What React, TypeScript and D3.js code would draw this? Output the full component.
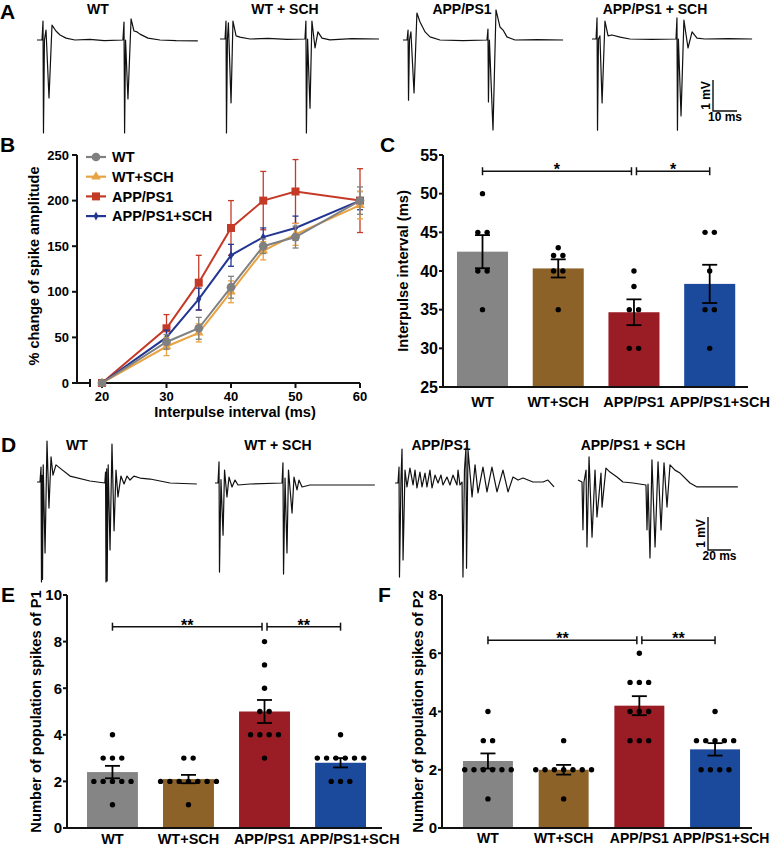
import React from "react";
import * as d3 from "d3";

const FONT = "'Liberation Sans', Arial, Helvetica, sans-serif";

type Pt = [number, number];

// ---------------- data ----------------
const groups = ["WT", "WT+SCH", "APP/PS1", "APP/PS1+SCH"];
const traceTitles = ["WT", "WT + SCH", "APP/PS1", "APP/PS1 + SCH"];

// Panel A traces: [time (ms), voltage (mV)]
const traceA_WT: Pt[] = [[0,0],[2.1,0],[2.5,0.61],[2.7,-3.0],[3.1,0],[3.75,0.32],[5.0,-1.87],[6.25,0.48],[7.9,0.29],[9.6,0.16],[12.1,0.06],[15.8,0],[22,0.02],[28,-0.02],[35.8,0],[36.25,0.58],[36.5,-3.0],[36.9,0],[37.9,-1.9],[39.2,0.68],[40.4,0.29],[41.7,0.26],[42.9,0.19],[46.25,0.06],[51.25,0],[58,-0.02],[67,-0.03]];
const traceA_WTSCH: Pt[] = [[0,0],[2.1,0],[2.5,0.58],[2.7,-3.03],[3.1,0],[3.5,0.52],[4.6,-2.06],[5.4,0.58],[6.7,0.1],[8.3,0.06],[12.5,0],[20,0.02],[28,-0.01],[35.4,0],[35.8,0.58],[36,-3.03],[36.5,0],[37.5,-2.23],[38.3,0.58],[39.6,-0.29],[40.8,0.23],[42.5,0.03],[45.8,-0.03],[55,0.01],[66.25,0]];
const traceA_APP: Pt[] = [[0,0],[1.7,0],[2.1,0.32],[2.3,-1.94],[2.7,0],[3.3,0.26],[4.6,-1.71],[5.8,0.87],[7.1,0.58],[9.2,0.26],[11.25,0.1],[15.4,0],[25,-0.02],[35,0],[35.4,0.35],[35.6,-2.0],[36,0],[37.5,-2.9],[38.75,0.97],[40.4,0.42],[41.7,0.32],[43.3,0.1],[46.7,0],[56,0.01],[66.7,0]];
const traceA_APPSCH: Pt[] = [[0,0],[1.7,0],[2.1,0.68],[2.3,-2.94],[2.7,0],[3.3,0.1],[4.2,-2.06],[5.4,0.58],[6.7,0.1],[8.3,0.13],[11.7,0.06],[15.8,0],[25,-0.01],[35,0],[35.4,0.68],[35.6,-2.94],[36,0],[37.1,-2.48],[38.3,0.61],[40,-0.29],[41.7,0.23],[43.75,0.03],[47,0],[57,0.01],[66.7,0]];

// Panel D traces: [time (ms), voltage (mV)]
const traceD_WT: Pt[] = [[0,0],[2.6,0],[3.5,0.45],[3.9,-3.03],[4.4,0.2],[4.8,-2.95],[5.4,0.52],[7.0,-2.15],[8.7,1.24],[10.4,-0.79],[12.2,0.76],[13.9,0.21],[16.5,0.52],[20,0.42],[28.7,0.18],[46,0.03],[59,-0.03],[59.6,0.3],[60,-3.03],[60.6,0.4],[61,-3.0],[61.9,0.52],[63.5,-2.06],[65.2,1.15],[67,-1.48],[68.7,0.36],[70.4,-0.45],[73,0.18],[75.7,-0.06],[78.3,0.18],[80.9,0.06],[84.3,0.18],[89.6,0.12],[98.3,0.09],[115.7,-0.03],[139,-0.06]];
const traceD_WTSCH: Pt[] = [[0,0],[2.6,0],[3.5,0.64],[3.9,-2.7],[5.2,0.1],[7.0,-1.58],[8.3,0.39],[10.4,-0.42],[12.2,0.18],[14.8,-0.12],[17.4,0.09],[20,-0.06],[30.4,-0.03],[58.3,0],[59.1,0.61],[59.6,-2.76],[60.9,0.15],[62.6,-2.12],[63.9,0.39],[67,-0.91],[68.7,0.18],[71.3,-0.21],[73,0.09],[75.7,-0.12],[82.6,-0.06],[139,-0.06]];
const traceD_APP: Pt[] = [[0,0],[2.6,0],[3.5,0.48],[3.9,-2.85],[5.2,0.09],[6.1,1.03],[7.0,-2.33],[8.7,0.39],[10.4,-0.12],[13.0,0.45],[15.7,-0.06],[17.4,0.39],[19.1,-0.15],[21.7,0.33],[23.5,-0.12],[26.1,0.3],[27.8,-0.12],[30.4,0.39],[32.2,-0.15],[34.8,0.24],[37.4,0],[40,0.24],[41.7,-0.06],[45.2,0.18],[47.8,-0.06],[50.4,0.24],[53.9,-0.06],[54.8,0.39],[56.5,-0.06],[58.3,0.03],[59.1,-2.85],[60.4,0.39],[61.7,1.06],[62.2,-2.58],[63.5,1.0],[67,-0.42],[69.6,0.55],[72.2,-0.3],[76.5,0.48],[80,-0.27],[84.3,0.48],[88.7,-0.27],[93.9,0.39],[98.3,-0.27],[102.6,0.18],[107,0.09],[111.3,0.15],[120,0.03],[128.7,0.03],[133,0.09],[138.3,-0.12]];
const traceD_APPSCH: Pt[] = [[0,0.06],[3.5,0],[4.3,-1.45],[5.2,0],[7,0.36],[7.8,-1.97],[9.6,0.76],[12.2,-1.67],[14.8,0.36],[16.5,-1.06],[20,0.27],[20.9,-0.76],[24.3,0.42],[27.8,0.3],[33.9,0.15],[39.1,0],[47.8,-0.03],[59.1,-0.09],[60,-1.45],[60.9,-0.06],[62.6,-2.3],[64.3,0.67],[67,-1.97],[69.6,0.61],[72.2,-1.45],[74.8,0.58],[77.4,-0.76],[80,0.52],[84.3,0.36],[88.7,0.27],[97.4,-0.03],[103.5,-0.15],[139,-0.15]];

// Panel B: % change of spike amplitude
const intervals = [20, 30, 35, 40, 45, 50, 60];
const ampWT = [0, 45, 60, 105, 150, 160, 200];
const semWT = [0, 8, 12, 12, 8, 12, 15];
const ampWTSCH = [0, 40, 55, 100, 145, 163, 195];
const semWTSCH = [0, 10, 10, 12, 10, 12, 15];
const ampAPP = [0, 60, 110, 170, 200, 210, 200];
const semAPP = [0, 15, 30, 30, 32, 35, 35];
const ampAPPSCH = [0, 50, 92, 140, 160, 170, 200];
const semAPPSCH = [0, 8, 12, 12, 10, 13, 10];
const bTicksY = [0, 50, 100, 150, 200, 250];
const bTicksX = [20, 30, 40, 50, 60];

// Panel C: interpulse interval (ms), individual animals
const cPoints = [
  [50, 45, 45, 40, 40, 35],
  [43, 42, 42, 40, 40, 35],
  [40, 38, 35, 35, 30, 30],
  [45, 45, 40, 35, 35, 30],
];
const cTicks = [25, 30, 35, 40, 45, 50, 55];

// Panel E: number of population spikes of P1
const ePoints = [
  [4, 3, 3, 3, 2, 2, 2, 2, 2, 1],
  [3, 3, 2, 2, 2, 2, 2, 2, 2, 1],
  [8, 7, 6, 5, 5, 4, 4, 4, 4, 3],
  [4, 3, 3, 3, 3, 3, 3, 2, 2, 2],
];
const eTicks = [0, 2, 4, 6, 8, 10];

// Panel F: number of population spikes of P2
const fPoints = [
  [4, 3, 3, 2, 2, 2, 2, 2, 2, 1],
  [3, 2, 2, 2, 2, 2, 2, 2, 1],
  [6, 5, 5, 5, 4, 4, 4, 3, 3, 3],
  [4, 3, 3, 3, 3, 3, 2, 2, 2, 2],
];
const fTicks = [0, 2, 4, 6, 8];

// ---------------- styles ----------------
const barColors = ["#858585", "#8d6229", "#9a1c24", "#1b4a9d"];
const lineColors = ["#808080", "#e8a343", "#c43a27", "#233792"];

// ---------------- components ----------------
function Trace({ data, x0, base, pxPerMs, pxPerMv }: { data: Pt[]; x0: number; base: number; pxPerMs: number; pxPerMv: number }) {
  const x = d3.scaleLinear().domain([0, 1]).range([x0, x0 + pxPerMs]);
  const y = d3.scaleLinear().domain([0, 1]).range([base, base - pxPerMv]);
  const line = d3.line<Pt>().x((d) => x(d[0])).y((d) => y(d[1]));
  return <path d={line(data) || ""} fill="none" stroke="#111" strokeWidth={1.2} strokeLinejoin="round" />;
}

function ScaleBar({ x0, yBottom, pxPerMs, pxPerMv, ms, msLabel }: { x0: number; yBottom: number; pxPerMs: number; pxPerMv: number; ms: number; msLabel: string }) {
  const x = d3.scaleLinear().domain([0, 1]).range([x0, x0 + pxPerMs]);
  const y = d3.scaleLinear().domain([0, 1]).range([yBottom, yBottom - pxPerMv]);
  return (
    <g>
      <path d={`M${x(0)},${y(1)}V${y(0)}H${x(ms)}`} fill="none" stroke="#111" strokeWidth={1.4} />
      <text transform={`translate(${x(0) - 3},${(y(0) + y(1)) / 2}) rotate(-90)`} textAnchor="middle" fontSize={12} fontWeight="bold">1 mV</text>
      <text x={(x(0) + x(ms)) / 2} y={yBottom + 10} textAnchor="middle" fontSize={12} fontWeight="bold">{msLabel}</text>
    </g>
  );
}

function PanelB() {
  const x = d3.scaleLinear().domain([20, 60]).range([102, 360]);
  const y = d3.scaleLinear().domain([0, 250]).range([383, 155]);
  const series = [
    { name: "WT", vals: ampWT, sem: semWT, color: lineColors[0], sym: d3.symbolCircle, size: 60 },
    { name: "WT+SCH", vals: ampWTSCH, sem: semWTSCH, color: lineColors[1], sym: d3.symbolTriangle, size: 40 },
    { name: "APP/PS1", vals: ampAPP, sem: semAPP, color: lineColors[2], sym: d3.symbolSquare, size: 64 },
    { name: "APP/PS1+SCH", vals: ampAPPSCH, sem: semAPPSCH, color: lineColors[3], sym: d3.symbolDiamond, size: 22 },
  ];
  const order = [2, 3, 1, 0];
  const line = d3.line<number>().x((_, i) => x(intervals[i])).y((d) => y(d));
  return (
    <g>
      <line x1={77} x2={77} y1={y(250)} y2={y(0) + 1} stroke="#111" strokeWidth={2} />
      {bTicksY.map((t) => (
        <g key={t}>
          <line x1={72} x2={77} y1={y(t)} y2={y(t)} stroke="#111" strokeWidth={2} />
          <text x={69} y={y(t)} dy="0.36em" textAnchor="end" fontSize={13} fontWeight="bold">{t}</text>
        </g>
      ))}
      <line x1={77} x2={90} y1={y(0)} y2={y(0)} stroke="#111" strokeWidth={2} />
      <line x1={90} x2={90} y1={y(0) - 4} y2={y(0) + 4} stroke="#111" strokeWidth={2} />
      <line x1={x(20)} x2={x(60)} y1={y(0)} y2={y(0)} stroke="#111" strokeWidth={2} />
      {bTicksX.map((t) => (
        <g key={t}>
          <line x1={x(t)} x2={x(t)} y1={y(0)} y2={y(0) + 5} stroke="#111" strokeWidth={2} />
          <text x={x(t)} y={401} textAnchor="middle" fontSize={13} fontWeight="bold">{t}</text>
        </g>
      ))}
      <text x={235} y={417} textAnchor="middle" fontSize={14.7} fontWeight="bold">Interpulse interval (ms)</text>
      <text transform={`translate(39,266) rotate(-90)`} textAnchor="middle" fontSize={14.5} fontWeight="bold">% change of spike amplitude</text>
      {order.map((si) => {
        const s = series[si];
        const symPath = d3.symbol().type(s.sym).size(s.size)() || "";
        return (
          <g key={s.name}>
            {s.vals.map((v, i) =>
              s.sem[i] > 0 ? (
                <g key={i} stroke={s.color} strokeWidth={1.3}>
                  <line x1={x(intervals[i])} x2={x(intervals[i])} y1={y(v - s.sem[i])} y2={y(v + s.sem[i])} />
                  <line x1={x(intervals[i]) - 3} x2={x(intervals[i]) + 3} y1={y(v + s.sem[i])} y2={y(v + s.sem[i])} />
                  <line x1={x(intervals[i]) - 3} x2={x(intervals[i]) + 3} y1={y(v - s.sem[i])} y2={y(v - s.sem[i])} />
                </g>
              ) : null
            )}
            <path d={line(s.vals) || ""} fill="none" stroke={s.color} strokeWidth={2} />
            {s.vals.map((v, i) => (
              <path key={i} d={symPath} transform={`translate(${x(intervals[i])},${y(v)})`} fill={s.color} />
            ))}
          </g>
        );
      })}
      {series.map((s, i) => {
        const ly = 157 + i * 19.7;
        const symPath = d3.symbol().type(s.sym).size(s.size)() || "";
        return (
          <g key={s.name}>
            <line x1={86} x2={106} y1={ly} y2={ly} stroke={s.color} strokeWidth={2.2} />
            <path d={symPath} transform={`translate(96,${ly})`} fill={s.color} />
            <text x={112} y={ly} dy="0.36em" fontSize={14.5} fontWeight="bold">{s.name}</text>
          </g>
        );
      })}
    </g>
  );
}

type BarProps = {
  points: number[][];
  yDomain: [number, number];
  yRange: [number, number];
  ticks: number[];
  bandRange: [number, number];
  padIn: number;
  padOut: number;
  axisX: number;
  axisEnd: number;
  tickFont: number;
  catFont: number;
  catY: number;
  lastShift: number;
  title: string;
  titleX: number;
  bracketLevel: number;
  star: string;
};

function BarPanel(p: BarProps) {
  const y = d3.scaleLinear().domain(p.yDomain).range(p.yRange);
  const x = d3.scaleBand<string>().domain(groups).range(p.bandRange).paddingInner(p.padIn).paddingOuter(p.padOut);
  const bw = x.bandwidth();
  const cx = (g: string) => (x(g) as number) + bw / 2;
  const means = p.points.map((d) => d3.mean(d) as number);
  const sems = p.points.map((d) => (d3.deviation(d) as number) / Math.sqrt(d.length));
  const base = p.yDomain[0];
  const spacing = 9.3;
  const by = y(p.bracketLevel);
  const l1 = cx(groups[0]);
  const l2 = cx(groups[2]) - 2.5;
  const r1 = cx(groups[2]) + 2.5;
  const r2 = cx(groups[3]);
  return (
    <g>
      {groups.map((g, gi) => (
        <rect key={g} x={x(g)} y={y(means[gi])} width={bw} height={y(base) - y(means[gi])} fill={barColors[gi]} />
      ))}
      {groups.map((g, gi) => {
        const vals = p.points[gi];
        const counts = d3.rollup(vals, (v) => v.length, (d) => d);
        const seen = new Map<number, number>();
        return (
          <g key={g}>
            {vals.map((v, i) => {
              const k = counts.get(v) as number;
              const j = seen.get(v) ?? 0;
              seen.set(v, j + 1);
              const dx = (j - (k - 1) / 2) * spacing;
              return <circle key={i} cx={cx(g) + dx} cy={y(v)} r={2.7} fill="#000" />;
            })}
          </g>
        );
      })}
      {groups.map((g, gi) => {
        const c = cx(g);
        const hi = y(means[gi] + sems[gi]);
        const lo = y(means[gi] - sems[gi]);
        return (
          <g key={g} stroke="#000" strokeWidth={1.8}>
            <line x1={c} x2={c} y1={hi} y2={lo} />
            <line x1={c - 7.5} x2={c + 7.5} y1={hi} y2={hi} />
            <line x1={c - 7.5} x2={c + 7.5} y1={lo} y2={lo} />
          </g>
        );
      })}
      <line x1={p.axisX} x2={p.axisX} y1={y(p.yDomain[1])} y2={y(base) + 1} stroke="#111" strokeWidth={2} />
      <line x1={p.axisX} x2={p.axisEnd} y1={y(base)} y2={y(base)} stroke="#111" strokeWidth={2} />
      {p.ticks.map((t) => (
        <g key={t}>
          <line x1={p.axisX - 4} x2={p.axisX} y1={y(t)} y2={y(t)} stroke="#111" strokeWidth={2} />
          <text x={p.axisX - 5} y={y(t)} dy="0.36em" textAnchor="end" fontSize={p.tickFont} fontWeight="bold">{t}</text>
        </g>
      ))}
      {groups.map((g, gi) => (
        <text key={g} x={cx(g) + (gi === 3 ? p.lastShift : 0)} y={p.catY} textAnchor="middle" fontSize={p.catFont} fontWeight="bold">{g}</text>
      ))}
      <text transform={`translate(${p.titleX},${(p.yRange[0] + p.yRange[1]) / 2}) rotate(-90)`} textAnchor="middle" dy="0.36em" fontSize={14.7} fontWeight="bold">{p.title}</text>
      <g stroke="#111" strokeWidth={1.5}>
        <line x1={l1} x2={l2} y1={by} y2={by} />
        <line x1={l1} x2={l1} y1={by - 4} y2={by + 4} />
        <line x1={l2} x2={l2} y1={by - 4} y2={by + 4} />
        <line x1={r1} x2={r2} y1={by} y2={by} />
        <line x1={r1} x2={r1} y1={by - 4} y2={by + 4} />
        <line x1={r2} x2={r2} y1={by - 4} y2={by + 4} />
      </g>
      <text x={(l1 + l2) / 2} y={by + 4} textAnchor="middle" fontSize={16} fontWeight="bold">{p.star}</text>
      <text x={(r1 + r2) / 2} y={by + 4} textAnchor="middle" fontSize={16} fontWeight="bold">{p.star}</text>
    </g>
  );
}

export default function App() {
  const aTraces = [
    { data: traceA_WT, x0: 37, base: 40, tx: 98 },
    { data: traceA_WTSCH, x0: 220, base: 39, tx: 285 },
    { data: traceA_APP, x0: 403, base: 40, tx: 462 },
    { data: traceA_APPSCH, x0: 592, base: 39, tx: 655 },
  ];
  const dTraces = [
    { data: traceD_WT, x0: 37, base: 482, tx: 77 },
    { data: traceD_WTSCH, x0: 215, base: 483, tx: 278 },
    { data: traceD_APP, x0: 395, base: 483, tx: 441 },
    { data: traceD_APPSCH, x0: 578, base: 482, tx: 633 },
  ];
  return (
    <svg width={777} height={846} style={{ position: "absolute", left: 0, top: 0, background: "#fff" }} fontFamily={FONT}>
      <rect width={777} height={846} fill="#fff" />
      {[["A", 0, 19], ["B", 0, 152], ["C", 380, 152], ["D", 1, 452], ["E", 1, 602], ["F", 378, 602]].map(([t, lx, ly]) => (
        <text key={t as string} x={lx as number} y={ly as number} fontSize={21} fontWeight="bold">{t}</text>
      ))}
      {aTraces.map((t, i) => (
        <g key={i}>
          <text x={t.tx} y={14} textAnchor="middle" fontSize={14} fontWeight="bold">{traceTitles[i]}</text>
          <Trace data={t.data} x0={t.x0} base={t.base} pxPerMs={2.4} pxPerMv={31} />
        </g>
      ))}
      <ScaleBar x0={713} yBottom={111} pxPerMs={2.4} pxPerMv={31} ms={10} msLabel="10 ms" />
      <PanelB />
      <BarPanel points={cPoints} yDomain={[25, 55]} yRange={[387, 155]} ticks={cTicks} bandRange={[443.5, 748.7]} padIn={0.326} padOut={0.178} axisX={443} axisEnd={748} tickFont={16} catFont={14.5} catY={407} lastShift={10} title="Interpulse interval (ms)" titleX={403} bracketLevel={52.9} star="*" />
      {dTraces.map((t, i) => (
        <g key={i}>
          <text x={t.tx} y={450} textAnchor="middle" fontSize={14} fontWeight="bold">{traceTitles[i]}</text>
          <Trace data={t.data} x0={t.x0} base={t.base} pxPerMs={1.15} pxPerMv={33} />
        </g>
      ))}
      <ScaleBar x0={708} yBottom={550} pxPerMs={1.15} pxPerMv={33} ms={20} msLabel="20 ms" />
      <BarPanel points={ePoints} yDomain={[0, 10]} yRange={[828, 595]} ticks={eTicks} bandRange={[67, 386]} padIn={0.33} padOut={0.263} axisX={67} axisEnd={382} tickFont={15} catFont={14.5} catY={844} lastShift={9} title="Number of population spikes of P1" titleX={36} bracketLevel={8.64} star="**" />
      <BarPanel points={fPoints} yDomain={[0, 8]} yRange={[828, 595]} ticks={fTicks} bandRange={[442, 761]} padIn={0.34} padOut={0.277} axisX={442} axisEnd={752} tickFont={15} catFont={14} catY={843} lastShift={6} title="Number of population spikes of P2" titleX={418} bracketLevel={6.45} star="**" />
    </svg>
  );
}
